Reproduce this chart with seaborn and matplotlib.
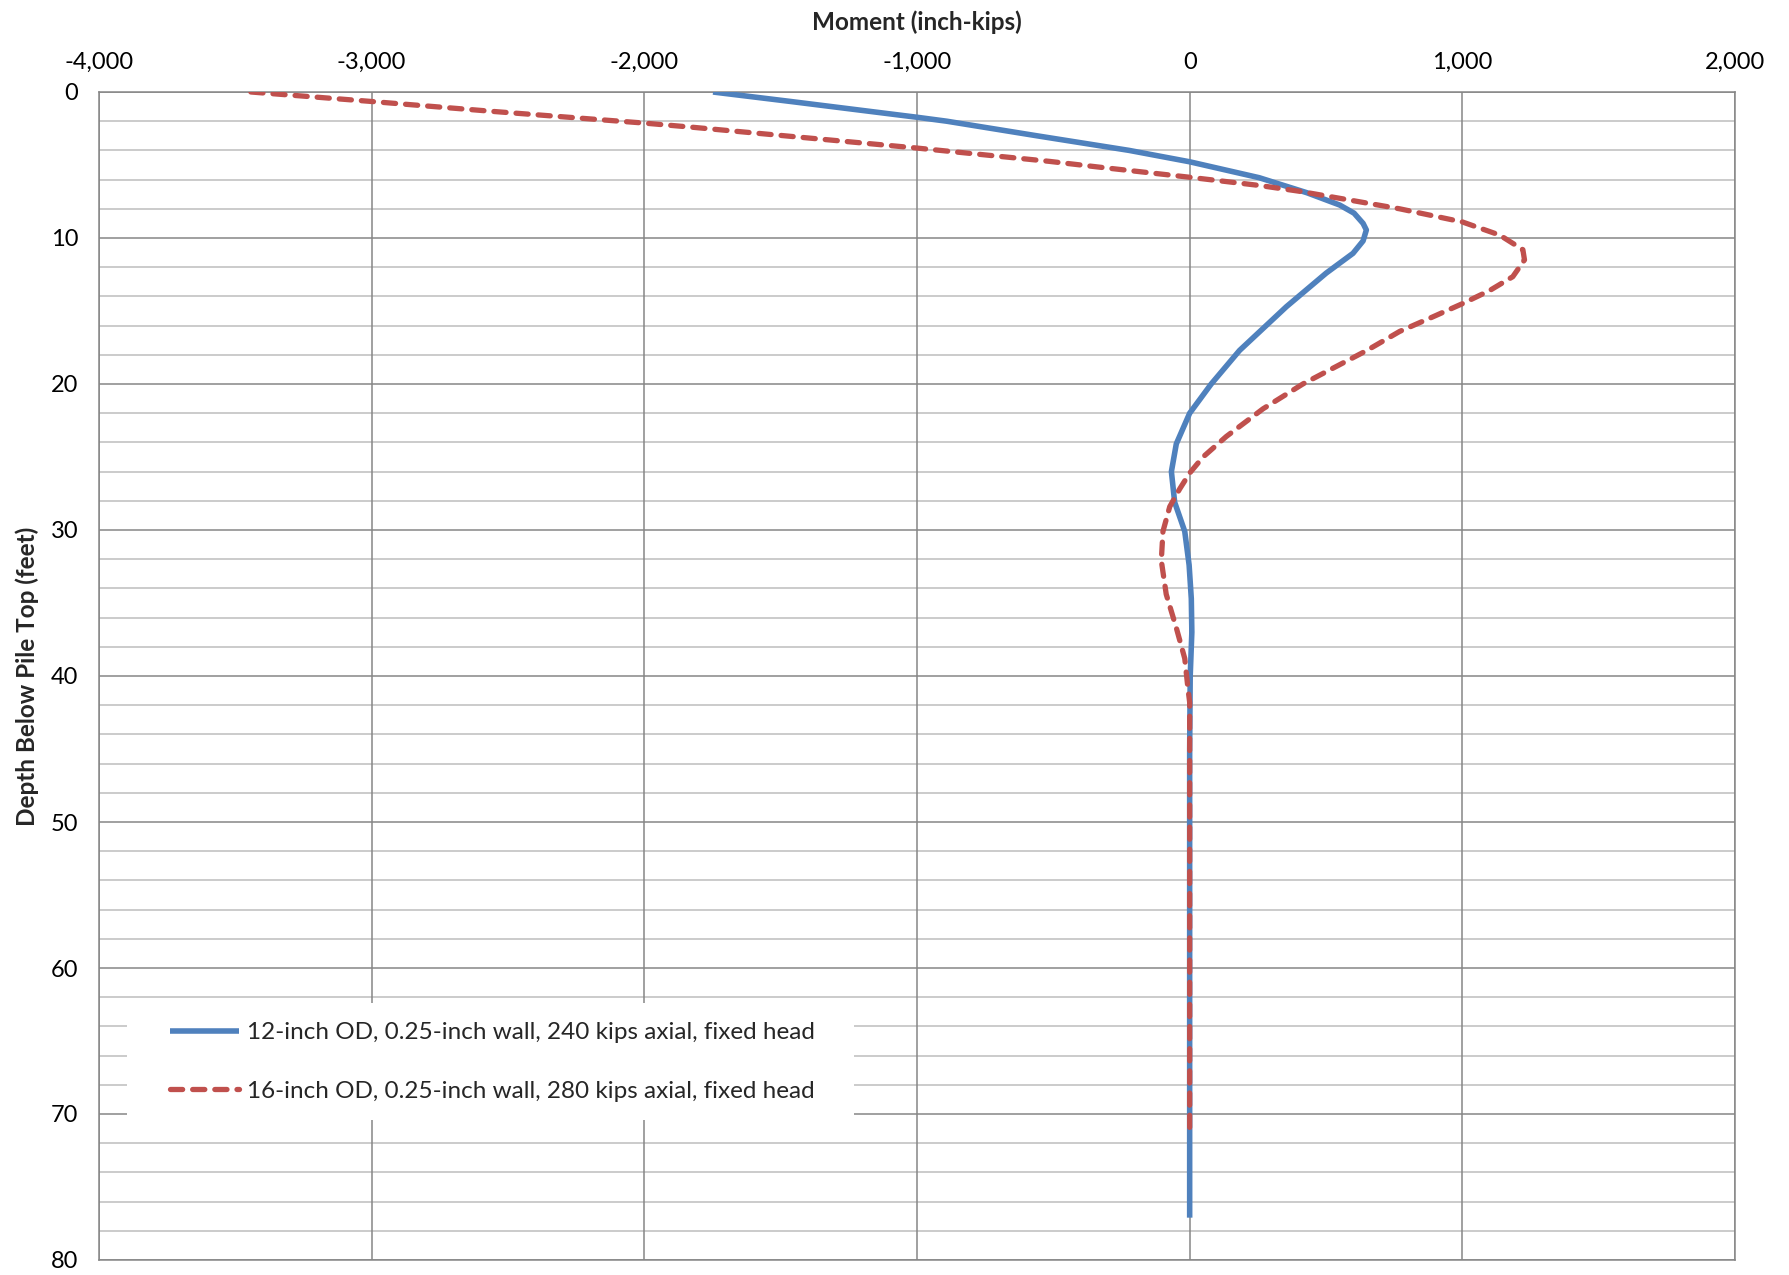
import matplotlib
matplotlib.use("Agg")
import matplotlib.pyplot as plt
from matplotlib.patches import Rectangle
import seaborn as sns
import pandas as pd

# Bending moment profiles (depth in feet, moment in inch-kips)
depth_12in = [0, 0.65, 1.73, 2.0, 3.0, 4.0, 4.78, 5.87, 6.9, 7.74, 8.3, 9.0, 9.45, 10.2, 11.05,
              12.4, 14.7, 17.7, 20.0, 22.0, 24.1, 26.0, 28.1, 30.1, 32.4, 34.7, 37.0, 40.0,
              45, 50, 55, 60, 65, 70, 77.1]
moment_12in = [-1748, -1463, -1000, -891, -560, -222, 0, 255, 430, 550, 603, 636, 648, 636, 599,
               501, 355, 183, 79, 0, -49, -67, -55, -18, -2, 6, 8, 2,
               0, 0, 0, 0, 0, 0, 0]

depth_16in = [0, 0.65, 1.33, 2.13, 2.42, 3.84, 4.75, 5.15, 5.84, 6.4, 6.8, 8.0, 8.9, 9.8,
              10.8, 11.5, 12.65, 13.6, 14.5, 15.4, 16.4, 17.7, 20.0, 21.7, 23.6, 25.0, 26.1, 27.2,
              28.4, 30.1, 32.1, 34.4, 36.7, 38.8, 40.9, 41.8, 50, 60, 71]
moment_16in = [-3443, -3000, -2555, -2000, -1820, -1000, -515, -330, 0, 255, 403, 770, 1000, 1137,
               1222, 1228, 1185, 1100, 1000, 892, 770, 650, 415, 269, 134, 49, 0, -37,
               -73, -98, -104, -86, -49, -18, -6, 0, 0, 0, 0]

series_labels = ["12-inch OD, 0.25-inch wall, 240 kips axial, fixed head",
                 "16-inch OD, 0.25-inch wall, 280 kips axial, fixed head"]

x_ticks = [-4000, -3000, -2000, -1000, 0, 1000, 2000]
y_major = [0, 10, 20, 30, 40, 50, 60, 70, 80]
y_minor = [d for d in range(0, 81, 2) if d % 10 != 0]

sns.set_theme(style="white")
plt.rcParams["font.family"] = ["Lato", "DejaVu Sans"]

BLUE = "#4F81BD"
RED = "#C0504D"
GRID_MAJOR = "#868686"
GRID_MINOR = "#BDBDBD"
TICK_FS = 17
LEGEND_FS = 17.5
TITLE_FS = 17.5

fig = plt.figure(figsize=(17.89, 12.75), dpi=100)
ax = fig.add_axes([99 / 1789, 1 - 1260 / 1275, (1735 - 99) / 1789, (1260 - 92) / 1275])

df12 = pd.DataFrame({"depth": depth_12in, "moment": moment_12in})
df16 = pd.DataFrame({"depth": depth_16in, "moment": moment_16in})

sns.lineplot(data=df12, x="moment", y="depth", sort=False, estimator=None, ax=ax,
             color=BLUE, linewidth=4.0, label=series_labels[0], zorder=4)
sns.lineplot(data=df16, x="moment", y="depth", sort=False, estimator=None, ax=ax,
             color=RED, linewidth=3.8, label=series_labels[1], zorder=5)
blue_line, red_line = ax.lines[0], ax.lines[1]
blue_line.set_solid_joinstyle("round")
blue_line.set_solid_capstyle("butt")
red_line.set_dashes([2.3, 1.9])
red_line.set_dash_capstyle("round")
red_line.set_dash_joinstyle("round")

ax.set_xlim(-4000, 2000)
ax.set_ylim(80, 0)

ax.xaxis.tick_top()
ax.xaxis.set_label_position("top")
ax.set_xticks(x_ticks)
ax.set_xticklabels([f"{v:,}" for v in x_ticks])
ax.set_yticks(y_major)
ax.set_yticklabels([str(v) for v in y_major])
ax.set_yticks(y_minor, minor=True)
ax.tick_params(axis="x", which="both", length=0, pad=13.5, labelsize=TICK_FS, colors="black")
ax.tick_params(axis="y", which="both", length=0, pad=15, labelsize=TICK_FS, colors="black")

ax.set_xlabel("Moment (inch-kips)", fontsize=TITLE_FS, fontweight="bold", labelpad=16)
ax.set_ylabel("Depth Below Pile Top (feet)", fontsize=TITLE_FS, fontweight="bold", labelpad=8)

ax.grid(False)
for v in x_ticks:
    ax.axvline(v, color=GRID_MAJOR, linewidth=1.1, zorder=1)
for d in y_minor:
    ax.axhline(d, color=GRID_MINOR, linewidth=1.1, zorder=0.8)
for d in y_major:
    ax.axhline(d, color=GRID_MAJOR, linewidth=1.1, zorder=1)
for s in ax.spines.values():
    s.set_color(GRID_MAJOR)
    s.set_linewidth(1.1)

# Legend panel on a white background that hides the grid behind it
ax.add_patch(Rectangle((127 / 1789, 1 - 1120 / 1275), 727 / 1789, 117 / 1275,
                       transform=fig.transFigure, facecolor="white", edgecolor="none",
                       zorder=3))
leg = ax.legend(loc="upper left", bbox_to_anchor=(170 / 1789, 1 - 1022 / 1275),
                bbox_transform=fig.transFigure, frameon=False, borderpad=0,
                borderaxespad=0, fontsize=LEGEND_FS, handlelength=2.85, handletextpad=0.3,
                labelspacing=1.55)
leg.set_zorder(6)

fig.savefig("out.png", dpi=100)
